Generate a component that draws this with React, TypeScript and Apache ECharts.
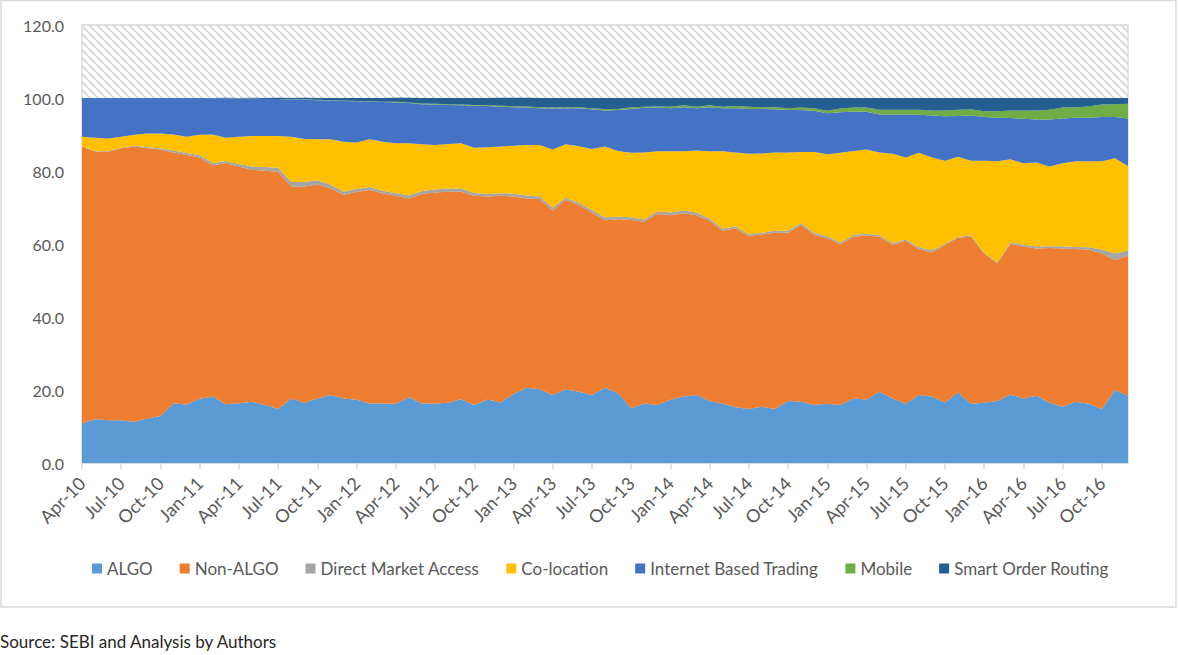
import * as echarts from 'echarts';
import { useEffect, useRef } from 'react';

const categories = [
  'Apr-10', 'May-10', 'Jun-10', 'Jul-10', 'Aug-10', 'Sep-10', 'Oct-10', 'Nov-10', 'Dec-10',
  'Jan-11', 'Feb-11', 'Mar-11', 'Apr-11', 'May-11', 'Jun-11', 'Jul-11', 'Aug-11', 'Sep-11', 'Oct-11', 'Nov-11', 'Dec-11',
  'Jan-12', 'Feb-12', 'Mar-12', 'Apr-12', 'May-12', 'Jun-12', 'Jul-12', 'Aug-12', 'Sep-12', 'Oct-12', 'Nov-12', 'Dec-12',
  'Jan-13', 'Feb-13', 'Mar-13', 'Apr-13', 'May-13', 'Jun-13', 'Jul-13', 'Aug-13', 'Sep-13', 'Oct-13', 'Nov-13', 'Dec-13',
  'Jan-14', 'Feb-14', 'Mar-14', 'Apr-14', 'May-14', 'Jun-14', 'Jul-14', 'Aug-14', 'Sep-14', 'Oct-14', 'Nov-14', 'Dec-14',
  'Jan-15', 'Feb-15', 'Mar-15', 'Apr-15', 'May-15', 'Jun-15', 'Jul-15', 'Aug-15', 'Sep-15', 'Oct-15', 'Nov-15', 'Dec-15',
  'Jan-16', 'Feb-16', 'Mar-16', 'Apr-16', 'May-16', 'Jun-16', 'Jul-16', 'Aug-16', 'Sep-16', 'Oct-16', 'Nov-16', 'Dec-16'
];

const algo = [
  10.9, 12.0, 11.7, 11.7, 11.3, 12.2, 12.9, 16.4, 16.0, 17.6,
  18.2, 16.1, 16.4, 16.8, 15.9, 14.8, 17.7, 16.5, 17.7, 18.6,
  17.7, 17.3, 16.3, 16.3, 16.2, 18.0, 16.3, 16.3, 16.5, 17.5,
  15.9, 17.4, 16.6, 18.9, 20.6, 20.2, 18.6, 20.2, 19.5, 18.6,
  20.6, 19.1, 15.0, 16.3, 15.9, 17.3, 18.2, 18.6, 17.0, 16.3,
  15.3, 14.8, 15.4, 14.8, 17.0, 16.8, 15.9, 16.2, 15.9, 17.7,
  17.4, 19.5, 17.7, 16.2, 18.6, 18.2, 16.6, 19.3, 16.2, 16.5,
  17.0, 18.8, 17.7, 18.4, 16.5, 15.4, 16.8, 16.2, 14.8, 20.0,
  18.4
];

const nonAlgo = [
  75.8, 73.3, 73.6, 74.5, 75.4, 74.0, 72.9, 68.7, 68.4, 66.1,
  63.4, 66.0, 64.8, 63.5, 64.2, 65.0, 58.0, 59.2, 58.6, 56.7,
  55.7, 57.0, 58.5, 57.6, 57.0, 54.5, 57.4, 57.8, 57.8, 56.8,
  57.3, 55.6, 56.6, 54.1, 51.9, 52.1, 50.5, 51.9, 51.2, 50.0,
  45.9, 47.7, 51.6, 49.8, 52.3, 50.6, 50.2, 49.3, 49.3, 47.3,
  49.0, 47.4, 47.2, 48.3, 46.1, 48.4, 46.6, 45.4, 44.0, 44.3,
  44.9, 42.5, 42.0, 44.7, 40.0, 39.5, 43.1, 42.4, 45.8, 40.9,
  37.7, 41.2, 41.6, 40.4, 42.4, 43.4, 41.8, 42.2, 42.6, 35.6,
  38.4
];

const directMarketAccess = [
  0.1, 0.1, 0.2, 0.2, 0.2, 0.3, 0.4, 0.5, 0.5, 0.6,
  0.6, 0.6, 0.7, 0.9, 1.0, 1.1, 1.3, 1.3, 1.2, 1.0,
  0.9, 0.8, 0.8, 0.7, 0.7, 0.8, 0.8, 0.8, 0.9, 0.9,
  0.8, 0.7, 0.7, 0.8, 0.8, 0.7, 0.8, 0.6, 0.6, 0.7,
  0.8, 0.7, 0.7, 0.6, 0.7, 0.7, 0.8, 0.7, 0.6, 0.6,
  0.5, 0.5, 0.5, 0.5, 0.5, 0.5, 0.5, 0.5, 0.5, 0.5,
  0.5, 0.4, 0.5, 0.3, 0.5, 0.6, 0.3, 0.3, 0.3, 0.2,
  0.2, 0.4, 0.5, 0.5, 0.5, 0.6, 0.6, 0.7, 1.1, 1.8,
  1.4
];

const coLocation = [
  2.6, 3.7, 3.4, 3.0, 3.0, 3.8, 4.1, 4.4, 4.5, 5.6,
  7.8, 6.4, 7.5, 8.4, 8.5, 8.7, 12.4, 11.8, 11.2, 12.4,
  13.7, 12.7, 13.1, 13.4, 13.7, 14.3, 12.8, 12.2, 12.2, 12.4,
  12.4, 12.8, 12.8, 13.1, 13.8, 14.1, 16.0, 14.6, 15.5, 16.7,
  19.4, 18.0, 17.7, 18.4, 16.5, 16.8, 16.2, 17.0, 18.5, 21.2,
  20.3, 22.0, 21.7, 21.5, 21.5, 19.5, 22.2, 22.5, 24.6, 23.0,
  23.1, 22.7, 24.5, 22.5, 25.9, 25.4, 22.8, 21.9, 20.5, 25.2,
  27.8, 22.8, 22.3, 23.0, 21.8, 22.7, 23.5, 23.6, 24.2, 26.1,
  23.2
];

const internetTrading = [
  10.6, 10.9, 11.1, 10.6, 10.1, 9.7, 9.7, 10.0, 10.6, 10.1,
  9.9, 10.8, 10.4, 10.2, 10.1, 10.1, 10.2, 10.8, 10.7, 10.6,
  11.2, 11.3, 10.3, 10.9, 11.2, 11.0, 11.0, 11.1, 10.7, 10.4,
  11.5, 11.3, 10.9, 10.6, 10.3, 10.1, 11.2, 9.9, 10.4, 10.9,
  9.9, 11.2, 12.0, 12.2, 12.0, 11.8, 12.1, 11.6, 12.1, 11.8,
  12.1, 12.3, 12.2, 11.8, 11.6, 11.5, 11.3, 11.2, 11.1, 10.8,
  10.3, 10.4, 10.8, 11.8, 10.4, 11.5, 12.2, 11.2, 12.4, 12.0,
  11.9, 11.3, 12.2, 11.8, 12.9, 12.3, 11.9, 11.9, 12.1, 11.3,
  13.0
];

const mobile = [
  0, 0, 0, 0, 0, 0, 0, 0, 0, 0,
  0.05, 0.05, 0.05, 0.05, 0.05, 0.05, 0.05, 0.05, 0.1, 0.1,
  0.1, 0.1, 0.1, 0.1, 0.15, 0.15, 0.2, 0.2, 0.2, 0.2,
  0.2, 0.2, 0.25, 0.25, 0.25, 0.3, 0.3, 0.3, 0.3, 0.3,
  0.4, 0.3, 0.5, 0.3, 0.3, 0.4, 0.5, 0.4, 0.5, 0.4,
  0.6, 0.6, 0.5, 0.6, 0.5, 0.7, 0.7, 0.7, 1.0, 1.1,
  1.2, 1.3, 1.3, 1.3, 1.4, 1.4, 1.6, 1.7, 1.7, 1.6,
  1.8, 2.1, 2.3, 2.5, 2.7, 3.0, 2.9, 3.1, 3.4, 3.5,
  4.0
];

const smartOrderRouting = [
  0, 0, 0, 0, 0, 0, 0, 0, 0, 0,
  0.05, 0.1, 0.15, 0.2, 0.25, 0.3, 0.35, 0.4, 0.5, 0.6,
  0.7, 0.8, 0.9, 1.0, 1.1, 1.3, 1.5, 1.6, 1.7, 1.8,
  1.9, 2.0, 2.2, 2.3, 2.4, 2.5, 2.6, 2.5, 2.5, 2.8,
  3.0, 3.0, 2.5, 2.4, 2.3, 2.4, 2.0, 2.4, 2.0, 2.4,
  2.2, 2.4, 2.5, 2.5, 2.8, 2.6, 2.8, 3.5, 2.9, 2.6,
  2.6, 3.2, 3.2, 3.2, 3.2, 3.4, 3.4, 3.2, 3.1, 3.6,
  3.6, 3.4, 3.4, 3.4, 3.2, 2.6, 2.5, 2.3, 1.8, 1.7,
  1.6
];

const seriesNames = ['ALGO', 'Non-ALGO', 'Direct Market Access', 'Co-location', 'Internet Based Trading', 'Mobile', 'Smart Order Routing'];
const seriesData = [algo, nonAlgo, directMarketAccess, coLocation, internetTrading, mobile, smartOrderRouting];
const seriesColors = ['#5B9BD5', '#ED7D31', '#A5A5A5', '#FFC000', '#4472C4', '#70AD47', '#255E91'];

const yMax = 120;
const yStep = 20;

const FONT = 'Lato, "Noto Sans", sans-serif';
const TEXT = '#595959';
const BORDER = '#d9d9d9';

// plot area fill above the stack: light downward-diagonal hatch
function hatch() {
  const c = document.createElement('canvas');
  c.width = 8;
  c.height = 8;
  const ctx = c.getContext('2d')!;
  ctx.fillStyle = '#ffffff';
  ctx.fillRect(0, 0, 8, 8);
  ctx.strokeStyle = '#d9d9d9';
  ctx.lineWidth = 2;
  ctx.beginPath();
  for (const k of [-8, 0, 8]) {
    ctx.moveTo(k, 0);
    ctx.lineTo(k + 8, 8);
  }
  ctx.stroke();
  return { image: c, repeat: 'repeat', imageWidth: 8, imageHeight: 8 };
}

export default function App() {
  const elRef = useRef<HTMLDivElement | null>(null);

  useEffect(() => {
    if (!elRef.current) return;
    const chart = echarts.init(elRef.current, undefined, { renderer: 'svg' });

    chart.setOption({
      animation: false,
      textStyle: { fontFamily: FONT },
      grid: {
        left: 82,
        right: 50,
        top: 25,
        bottom: 192,
        show: true,
        borderColor: BORDER,
        borderWidth: 1.5,
        backgroundColor: hatch(),
        outerBoundsMode: 'none'
      },
      legend: {
        data: seriesNames,
        left: 87,
        top: 555,
        icon: 'rect',
        itemWidth: 10,
        itemHeight: 10,
        itemGap: 27,
        textStyle: { color: TEXT, fontSize: 17, fontFamily: FONT },
        selectedMode: false
      },
      xAxis: {
        type: 'category',
        data: categories,
        boundaryGap: false,
        axisLine: { lineStyle: { color: BORDER, width: 1.5 } },
        axisTick: { show: true, interval: 2, length: 6, lineStyle: { color: BORDER, width: 1.5 } },
        axisLabel: { interval: 2, rotate: 45, margin: 17, color: TEXT, fontSize: 18, fontFamily: FONT }
      },
      yAxis: {
        type: 'value',
        min: 0,
        max: yMax,
        interval: yStep,
        axisLine: { show: false },
        axisTick: { show: false },
        splitLine: { show: false },
        axisLabel: {
          color: TEXT,
          fontSize: 16,
          fontFamily: FONT,
          margin: 18,
          formatter: (v: number) => v.toFixed(1)
        }
      },
      graphic: [
        {
          type: 'rect',
          silent: true,
          z: -10,
          shape: { x: 1, y: 0.5, width: 1175, height: 606.5 },
          style: { fill: 'none', stroke: BORDER, lineWidth: 1.5 }
        },
        {
          type: 'text',
          silent: true,
          x: 0,
          y: 641,
          style: {
            text: 'Source: SEBI and Analysis by Authors',
            fill: '#262626',
            font: `17px ${FONT}`,
            verticalAlign: 'middle'
          }
        }
      ],
      series: seriesNames.map((name, i) => ({
        type: 'line',
        name,
        data: seriesData[i],
        stack: 'share',
        symbol: 'none',
        showSymbol: false,
        silent: true,
        lineStyle: { width: 0 },
        itemStyle: { color: seriesColors[i] },
        areaStyle: { color: seriesColors[i], opacity: 1 }
      }))
    });

    return () => chart.dispose();
  }, []);

  return (
    <div style={{ position: 'fixed', left: 0, top: 0, width: 1178, height: 655, background: '#fff' }}>
      <div ref={elRef} style={{ width: 1178, height: 655 }} />
    </div>
  );
}
